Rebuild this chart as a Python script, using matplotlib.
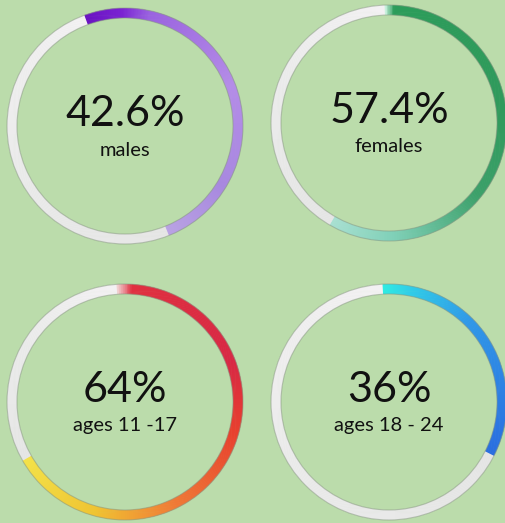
import numpy as np
import matplotlib
matplotlib.use("Agg")
import matplotlib.pyplot as plt
from matplotlib.patches import Wedge, Circle
from matplotlib.colors import LinearSegmentedColormap

# ---- data ----
percent_labels = ["42.6%", "57.4%", "64%", "36%"]
category_labels = ["males", "females", "ages 11 -17", "ages 18 - 24"]
percent_values = [42.6, 57.4, 64.0, 36.0]
# coloured arc as drawn (degrees, clockwise from 12 o'clock)
arc_start_deg = [-20, -2, -4, -3]
arc_end_deg = [158, 210, 240, 117]

# ---- styling ----
BG = "#bbdcab"
gradients = [
    [(0.0, "#6a12c2"), (0.10, "#7a22d2"), (0.18, "#9a62e0"), (0.5, "#b48ce8"),
     (0.8, "#a888e0"), (1.0, "#b9a2e4")],
    [(0.0, "#c8f0dc"), (0.02, "#2c9c5a"), (0.4, "#2f9a5c"), (0.62, "#3ca06a"),
     (0.85, "#80d0b8"), (1.0, "#a8e0d2")],
    [(0.0, "#f0d0d0"), (0.03, "#e03040"), (0.3, "#d82845"), (0.45, "#e8402e"),
     (0.65, "#f07a36"), (0.82, "#f0c432"), (1.0, "#f4e248")],
    [(0.0, "#30ece2"), (0.12, "#30cce8"), (0.4, "#3098e8"), (1.0, "#2a6ee0")],
]
gray_grad = [(0.0, "#e6e6e6"), (0.5, "#ebebeb"), (1.0, "#f3f1f3")]

centers_px = [(125, 126), (389, 123), (125, 402), (389, 402)]
R_PX = 118.0
HALF_PX = 122.0
W, H = 505, 523
RING_W = 10.0 / R_PX

fig = plt.figure(figsize=(W / 100, H / 100), dpi=100, facecolor=BG)


def draw_arc(ax, a1, a2, cmap, step=0.5):
    n = max(int((a2 - a1) / step), 1)
    edges = np.linspace(a1, a2, n + 1)
    for i in range(n):
        c = cmap((i + 0.5) / n)
        ax.add_patch(Wedge((0, 0), 1.0, 90 - edges[i + 1] - 0.15, 90 - edges[i] + 0.15,
                           width=RING_W, facecolor=c, edgecolor="none", lw=0))


for i in range(4):
    cx, cy = centers_px[i]
    ax = fig.add_axes([(cx - HALF_PX) / W, (H - cy - HALF_PX) / H,
                       2 * HALF_PX / W, 2 * HALF_PX / H])
    lim = HALF_PX / R_PX
    ax.set_xlim(-lim, lim)
    ax.set_ylim(-lim, lim)
    ax.set_aspect("equal")
    ax.axis("off")
    ax.patch.set_alpha(0)

    cmap = LinearSegmentedColormap.from_list("g%d" % i, gradients[i])
    gcmap = LinearSegmentedColormap.from_list("gray%d" % i, gray_grad)
    draw_arc(ax, arc_end_deg[i], arc_start_deg[i] + 360, gcmap)
    draw_arc(ax, arc_start_deg[i], arc_end_deg[i], cmap)

    for r in (1.0, 1.0 - RING_W):
        ax.add_patch(Circle((0, 0), r, fill=False, edgecolor="#8a9a84",
                            lw=0.8, alpha=0.55))

    ax.text(0, 0.0, percent_labels[i], ha="center", va="baseline",
            fontsize=31, family=["Lato", "DejaVu Sans"], color="#111111")
    ax.text(0, -0.25, category_labels[i], ha="center", va="baseline",
            fontsize=14.5, family=["Lato", "DejaVu Sans"], color="#111111")

fig.savefig("out.png", dpi=100, facecolor=BG)
